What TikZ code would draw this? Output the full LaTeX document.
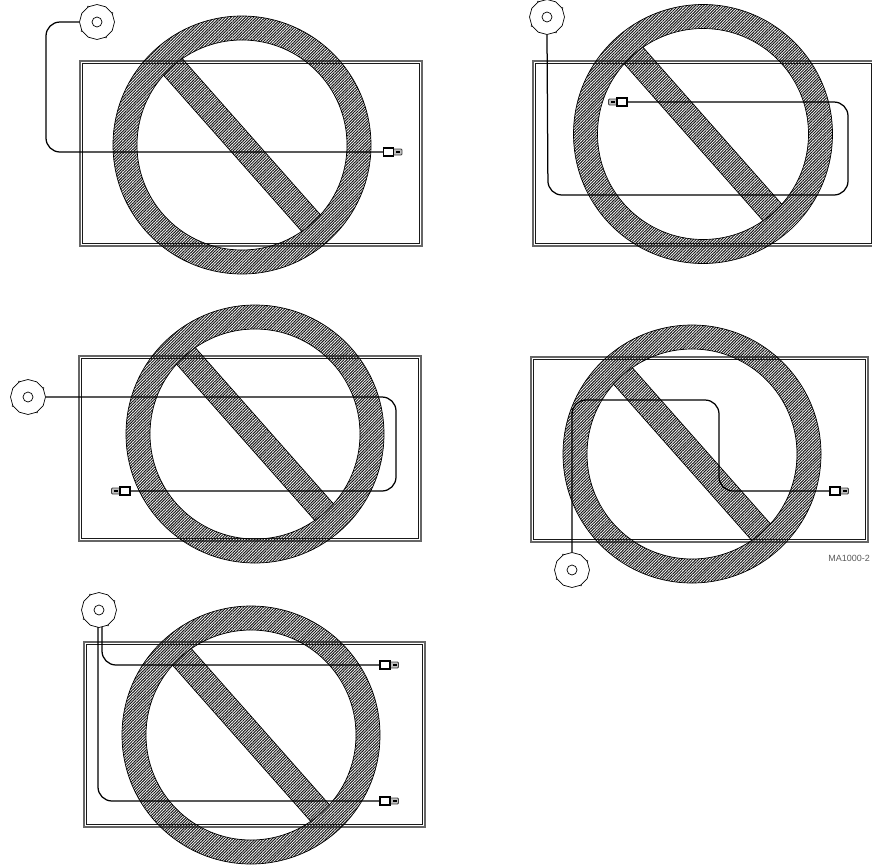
\documentclass[tikz,border=0pt]{standalone}
\usepackage{fontspec}
\setmainfont{Liberation Sans}
\usetikzlibrary{patterns.meta,shapes.geometric}
\tikzset{
  x=1pt,y=-1pt,
  hatch/.style={pattern={Lines[angle=45,distance=2pt,line width=1pt]},pattern color=black!90},
  frameouter/.style={draw=black!60,line width=1.2pt},
  frameinner/.style={draw=black!90,line width=0.8pt},
  cable/.style={draw=black,line width=1.25pt,rounded corners=14pt},
  puckbody/.style={draw=black,fill=white,regular polygon,regular polygon sides=12,minimum size=35pt,inner sep=0pt,line width=0.7pt,shape border rotate=15},
  puckhole/.style={draw=black,fill=white,circle,minimum size=10pt,inner sep=0pt,line width=0.7pt},
  plugbody/.style={draw=black,fill=white,minimum width=10pt,minimum height=8pt,inner sep=0pt,line width=1.1pt},
  plugtip/.style={draw=black!75,fill=black!25,minimum width=9pt,minimum height=6pt,rounded corners=1pt,inner sep=0pt,line width=0.9pt},
  plugpin/.style={fill=black,minimum width=4pt,minimum height=2.6pt,inner sep=0pt},
  mark label/.style={text=black!65,font=\fontsize{9pt}{10pt}\selectfont,inner sep=0pt,anchor=east}
}
% frame: x1,y1,x2,y2
\newcommand{\myframe}[4]{%
  \draw[frameouter] (#1,#2) rectangle (#3,#4);
  \draw[frameinner] (#1+2.5,#2+2.5) rectangle (#3-2.5,#4-2.5);}
% prohibition sign: cx,cy,R
\newcommand{\mysign}[3]{%
  \begin{scope}
    \path[hatch,even odd rule] (#1,#2) circle[radius=#3] (#1,#2) circle[radius=#3-24];
    \draw[black,line width=0.7pt] (#1,#2) circle[radius=#3] (#1,#2) circle[radius=#3-24];
    \begin{scope}
      \clip (#1,#2) circle[radius=#3-23.5];
      \begin{scope}[shift={(#1,#2)},rotate=-48.5]
        \path[hatch] (-140,12.5) rectangle (140,-12.5);
        \draw[black,line width=0.7pt] (-140,12.5) -- (140,12.5) (-140,-12.5) -- (140,-12.5);
      \end{scope}
    \end{scope}
  \end{scope}}
% puck: name,x,y
\newcommand{\mypuck}[3]{%
  \node[puckbody] (#1) at (#2,#3) {};
  \node[puckhole] (#1h) at (#2,#3) {};
  \fill[black!80] (#1.30) circle[radius=0.9pt] (#1.120) circle[radius=0.9pt]
    (#1.210) circle[radius=0.9pt] (#1.300) circle[radius=0.9pt];}
% plug facing right: name,x,y (x,y = centre of body)
\newcommand{\myplugR}[3]{%
  \node[plugtip] (#1t) at (#2+9,#3) {};
  \node[plugpin] (#1p) at (#2+9.5,#3) {};
  \node[plugbody] (#1) at (#2,#3) {};}
\newcommand{\myplugL}[3]{%
  \node[plugtip] (#1t) at (#2-9,#3) {};
  \node[plugpin] (#1p) at (#2-9.5,#3) {};
  \node[plugbody] (#1) at (#2,#3) {};}
\begin{document}
\begin{tikzpicture}
\useasboundingbox (0,0) rectangle (872,865);
% panel 1
\myframe{80}{61}{422}{246}
\mysign{242}{145}{129}
\mypuck{pa}{97}{22}
\myplugR{ga}{388.5}{152}
\coordinate (a1) at (46,22);
\coordinate (a2) at (46,152);
\draw[cable] (pa.west) -- (a1) -- (a2) -- (ga.west);
% panel 2
\myframe{533}{61}{874}{246}
\mysign{703}{134}{129.5}
\mypuck{pb}{547}{17}
\myplugL{gb}{622}{102}
\coordinate (b1) at (548,195);
\coordinate (b2) at (848,195);
\coordinate (b3) at (848,102);
\draw[cable] (pb.south) -- (b1) -- (b2) -- (b3) -- (gb.east);
% panel 3
\myframe{79}{356}{421}{541}
\mysign{255}{434}{129}
\mypuck{pc}{28}{397}
\myplugL{gc}{125}{491}
\coordinate (c1) at (396,397);
\coordinate (c2) at (396,491);
\draw[cable] (pc.east) -- (c1) -- (c2) -- (gc.east);
% panel 4
\myframe{531}{357}{868}{542}
\mysign{692}{454}{129}
\mypuck{pd}{572}{570}
\myplugR{gd}{835}{491}
\coordinate (d1) at (572,400);
\coordinate (d2) at (719,400);
\coordinate (d3) at (719,491);
\draw[cable] (pd.north) -- (d1) -- (d2) -- (d3) -- (gd.west);
\node[mark label] (ml) at (870,558) {MA1000-2};
% panel 5
\myframe{84}{642}{425}{827}
\mysign{251}{735}{129}
\mypuck{pe}{99}{610}
\myplugR{ge}{385}{665}
\myplugR{gf}{385}{801}
\coordinate (e0) at (102,627);
\coordinate (e1) at (102,665);
\coordinate (f0) at (98,627);
\coordinate (f1) at (98,801);
\draw[cable] (e0) -- (e1) -- (ge.west);
\draw[cable] (f0) -- (f1) -- (gf.west);
\end{tikzpicture}
\end{document}
